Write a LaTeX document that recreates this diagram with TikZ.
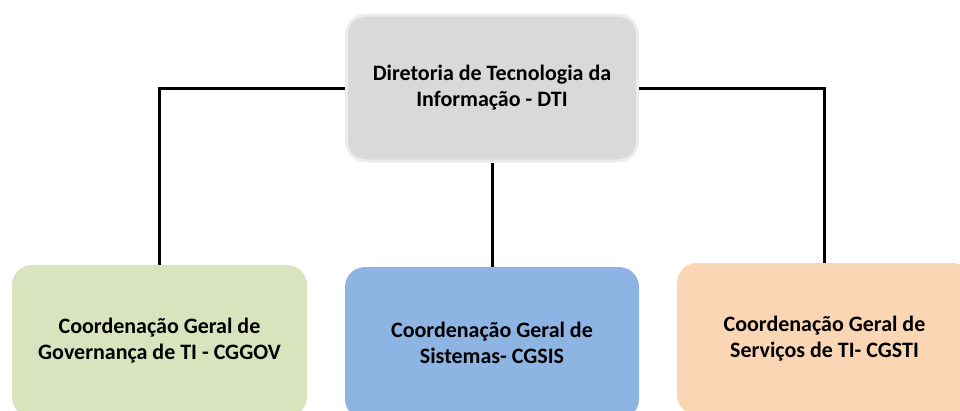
\documentclass[tikz,border=0pt]{standalone}
\usepackage{fontspec}
\setmainfont{Carlito}
\definecolor{topgray}{RGB}{217,217,217}
\definecolor{govgreen}{RGB}{215,228,189}
\definecolor{sisblue}{RGB}{142,180,227}
\definecolor{servorange}{RGB}{251,214,181}
\definecolor{rimgray}{RGB}{236,236,236}
\tikzset{
  unitbox/.style={rounded corners=20pt, align=center, inner sep=0pt,
    font=\fontsize{22}{26}\selectfont\bfseries, text=black},
  link/.style={draw=black, line width=3pt}
}
\begin{document}
\begin{tikzpicture}[x=1pt,y=-1pt]
\useasboundingbox (0,0) rectangle (960,410);
\clip (0,0) rectangle (960,410);
\node[unitbox, fill=topgray, draw=rimgray, line width=3pt,
  minimum width=291pt, minimum height=146pt] (dti) at (492,88)
  {Diretoria de Tecnologia da\\Informação - DTI};
\node[unitbox, fill=govgreen, minimum width=295pt, minimum height=152pt] (gov) at (159.5,341)
  {Coordenação Geral de\\Governança de TI - CGGOV};
\node[unitbox, fill=sisblue, minimum width=294pt, minimum height=152pt] (sis) at (492,343)
  {Coordenação Geral de\\Sistemas- CGSIS};
\node[unitbox, fill=servorange, minimum width=295pt, minimum height=152pt] (serv) at (824.5,339)
  {Coordenação Geral de\\Serviços de TI- CGSTI};
\draw[link] (dti.west) -| (gov.north);
\draw[link] (dti.south) -- (sis.north);
\draw[link] (dti.east) -| (serv.north);
\end{tikzpicture}
\end{document}
